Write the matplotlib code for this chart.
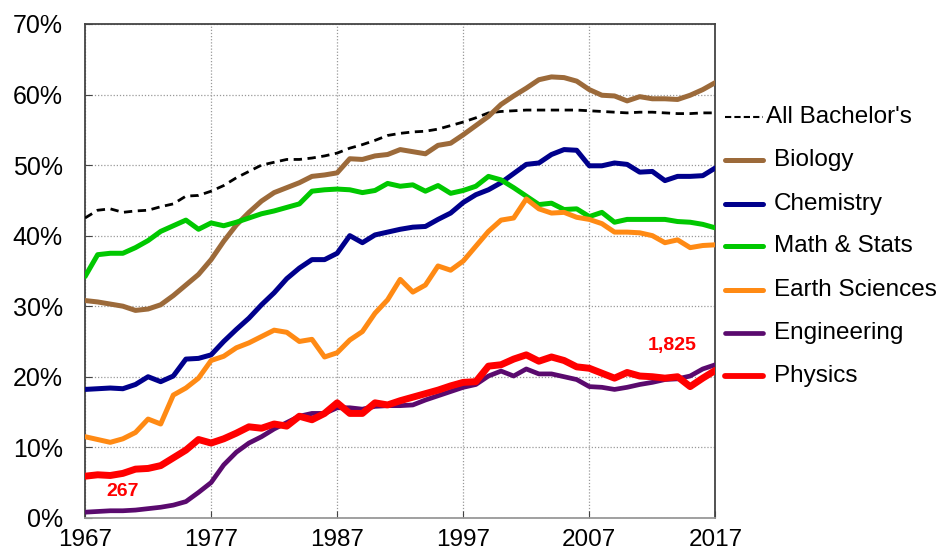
import matplotlib
matplotlib.use("Agg")
import matplotlib.pyplot as plt
from matplotlib.lines import Line2D

plt.rcParams['font.family'] = ['Liberation Sans', 'DejaVu Sans']

years = list(range(1967, 2018))

# share of bachelor's degrees earned by women (%)
all_bachelors = [42.5, 43.6, 43.8, 43.3, 43.5, 43.6, 44.1, 44.5, 45.6, 45.7,
                 46.3, 47.1, 48.2, 49.1, 50.0, 50.4, 50.8, 50.8, 51.0, 51.3,
                 51.7, 52.4, 52.9, 53.5, 54.2, 54.5, 54.7, 54.8, 55.1, 55.6,
                 56.1, 56.7, 57.4, 57.6, 57.7, 57.8, 57.8, 57.8, 57.8, 57.8,
                 57.7, 57.6, 57.5, 57.4, 57.5, 57.5, 57.4, 57.3, 57.3, 57.4, 57.4]
biology = [30.8, 30.6, 30.3, 30.0, 29.4, 29.6, 30.2, 31.5, 33.0, 34.5,
           36.6, 39.2, 41.5, 43.3, 44.9, 46.1, 46.8, 47.5, 48.4, 48.6,
           48.9, 50.9, 50.8, 51.3, 51.5, 52.2, 51.9, 51.6, 52.8, 53.1,
           54.3, 55.6, 56.9, 58.6, 59.8, 60.9, 62.1, 62.5, 62.4, 61.9,
           60.7, 59.9, 59.8, 59.1, 59.7, 59.4, 59.4, 59.3, 59.9, 60.7, 61.7]
chemistry = [18.2, 18.3, 18.4, 18.3, 18.9, 20.0, 19.3, 20.1, 22.5, 22.6,
             23.1, 25.0, 26.7, 28.3, 30.2, 31.9, 33.9, 35.4, 36.6, 36.6,
             37.5, 40.0, 39.0, 40.1, 40.5, 40.9, 41.2, 41.3, 42.3, 43.2,
             44.7, 45.8, 46.5, 47.5, 48.8, 50.1, 50.3, 51.5, 52.2, 52.1,
             49.9, 49.9, 50.3, 50.1, 49.0, 49.1, 47.8, 48.4, 48.4, 48.5, 49.6]
math_stats = [34.2, 37.3, 37.5, 37.5, 38.3, 39.3, 40.6, 41.4, 42.2, 40.9,
              41.8, 41.4, 41.9, 42.5, 43.1, 43.5, 44.0, 44.5, 46.3, 46.5,
              46.6, 46.5, 46.1, 46.4, 47.4, 47.0, 47.2, 46.3, 47.1, 46.0,
              46.4, 47.0, 48.4, 47.9, 46.8, 45.6, 44.4, 44.6, 43.7, 43.8,
              42.7, 43.3, 41.9, 42.3, 42.3, 42.3, 42.3, 42.0, 41.9, 41.6, 41.1]
earth_sciences = [11.5, 11.1, 10.7, 11.2, 12.1, 14.0, 13.3, 17.4, 18.4, 19.8,
                  22.3, 22.9, 24.1, 24.8, 25.7, 26.6, 26.3, 25.0, 25.3, 22.8,
                  23.4, 25.2, 26.4, 29.0, 30.9, 33.8, 32.0, 33.0, 35.7, 35.1,
                  36.4, 38.5, 40.6, 42.2, 42.5, 45.2, 43.8, 43.2, 43.3, 42.6,
                  42.3, 41.7, 40.5, 40.5, 40.4, 40.0, 39.0, 39.4, 38.3, 38.6, 38.7]
engineering = [0.8, 0.9, 1.0, 1.0, 1.1, 1.3, 1.5, 1.8, 2.3, 3.6,
               5.0, 7.5, 9.3, 10.6, 11.5, 12.6, 13.5, 14.4, 14.8, 14.8,
               15.6, 15.6, 15.4, 15.8, 15.9, 15.9, 16.0, 16.7, 17.3, 17.9,
               18.5, 18.9, 20.1, 20.8, 20.1, 21.1, 20.4, 20.4, 20.0, 19.6,
               18.6, 18.5, 18.2, 18.5, 18.9, 19.2, 19.6, 19.7, 20.1, 21.1, 21.7]
physics = [5.9, 6.1, 6.0, 6.3, 6.9, 7.0, 7.4, 8.5, 9.6, 11.1,
           10.6, 11.2, 12.0, 12.9, 12.7, 13.3, 13.0, 14.4, 13.9, 14.8,
           16.3, 14.8, 14.8, 16.3, 16.0, 16.6, 17.1, 17.6, 18.1, 18.7,
           19.2, 19.3, 21.5, 21.7, 22.5, 23.1, 22.2, 22.8, 22.3, 21.4,
           21.2, 20.5, 19.8, 20.6, 20.1, 20.0, 19.8, 20.0, 18.6, 19.8, 20.9]

series_names = ["Biology", "Chemistry", "Math & Stats", "Earth Sciences",
                "Engineering", "Physics"]
series_values = [biology, chemistry, math_stats, earth_sciences,
                 engineering, physics]
colors = ["#9c6a3a", "#00008c", "#00c800", "#ff8a14", "#5a0a6e", "#ff0000"]
widths = [3.6, 3.6, 3.6, 3.6, 3.4, 5.0]

fig = plt.figure(figsize=(9.45, 5.58), dpi=100)
ax = fig.add_axes([0.090, 0.072, 0.667, 0.885])

ax.plot(years, all_bachelors, color="black", lw=2.0, ls=(0, (3, 2)), zorder=3)
for vals, c, w in zip(series_values, colors, widths):
    ax.plot(years, vals, color=c, lw=w, solid_capstyle="round", zorder=3)

ax.set_xlim(1967, 2017)
ax.set_ylim(0, 70)
ax.set_xticks(range(1967, 2018, 10))
ax.set_yticks(range(0, 71, 10))
ax.set_yticklabels([f"{v}%" for v in range(0, 71, 10)])
ax.tick_params(labelsize=18, direction="in", length=5, color="#444444")
ax.tick_params(axis="y", pad=16)
ax.tick_params(axis="x", pad=8, labelsize=17.5)
ax.grid(True, color="#999999", ls=(0, (1, 1.5)), lw=0.9)

for s in ax.spines.values():
    s.set_color("#444444")
    s.set_linewidth(1.3)
ax.spines["bottom"].set_color("#999999")

# data labels (number of degrees to women)
ax.text(1970.0, 3.8, "267", color="red", fontsize=14, fontweight="bold",
        ha="center", va="center")
ax.text(2013.6, 24.4, "1,825", color="red", fontsize=14, fontweight="bold",
        ha="center", va="center")

# custom legend to the right of the plot
lx0, lx1, tx = 0.767, 0.807, 0.819
fig.add_artist(Line2D([lx0, lx1], [0.790, 0.790], color="black", lw=1.5,
                      ls=(0, (3, 1.5)), transform=fig.transFigure))
fig.text(0.811, 0.790, "All Bachelor's", fontsize=17.5, va="center", ha="left")
leg_y = [0.713, 0.635, 0.559, 0.481, 0.403, 0.326]
for name, c, w, y in zip(series_names, colors, widths, leg_y):
    fig.add_artist(Line2D([lx0, lx1], [y, y], color=c, lw=min(w, 4.2),
                          solid_capstyle="round", transform=fig.transFigure))
    fig.text(tx, y, name, fontsize=17.5, va="center", ha="left")

fig.savefig("out.png", dpi=100)
